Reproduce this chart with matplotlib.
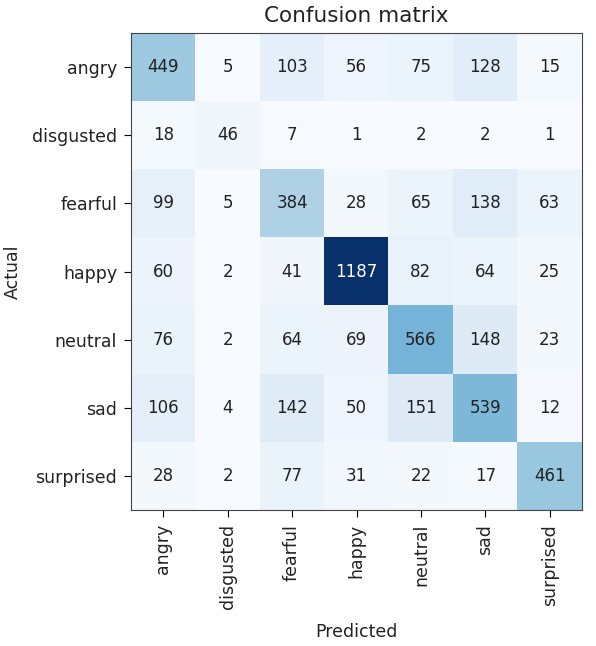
import numpy as np
import matplotlib
matplotlib.use("Agg")
import matplotlib.pyplot as plt

classes = ["angry", "disgusted", "fearful", "happy", "neutral", "sad", "surprised"]
cm = np.array([
    [449, 5, 103, 56, 75, 128, 15],
    [18, 46, 7, 1, 2, 2, 1],
    [99, 5, 384, 28, 65, 138, 63],
    [60, 2, 41, 1187, 82, 64, 25],
    [76, 2, 64, 69, 566, 148, 23],
    [106, 4, 142, 50, 151, 539, 12],
    [28, 2, 77, 31, 22, 17, 461],
])

fig = plt.figure(figsize=(5.96, 6.46), dpi=100)
ax = fig.add_axes([131/596, 1 - 510/646, 451/596, 477/646])
ax.imshow(cm, interpolation="nearest", cmap=plt.cm.Blues, aspect="auto")
ax.set_title("Confusion matrix", fontsize=15.5, color="#222222", pad=8)

ticks = np.arange(len(classes))
ax.set_xticks(ticks)
ax.set_xticklabels(classes, rotation=90, fontsize=12.5, color="#222222")
ax.set_yticks(ticks)
ax.set_yticklabels(classes, fontsize=12.5, color="#222222")
ax.tick_params(length=5, pad=5)
for s in ax.spines.values():
    s.set_color("#444444")

thresh = cm.max() / 2.
for i in range(cm.shape[0]):
    for j in range(cm.shape[1]):
        ax.text(j, i, format(cm[i, j], "d"), ha="center", va="center",
                fontsize=12,
                color="white" if cm[i, j] > thresh else "#222222")

ax.set_ylabel("Actual", fontsize=12.5, color="#222222", labelpad=7)
ax.set_xlabel("Predicted", fontsize=12.5, color="#222222", labelpad=10)

fig.savefig("out.png", dpi=100)
